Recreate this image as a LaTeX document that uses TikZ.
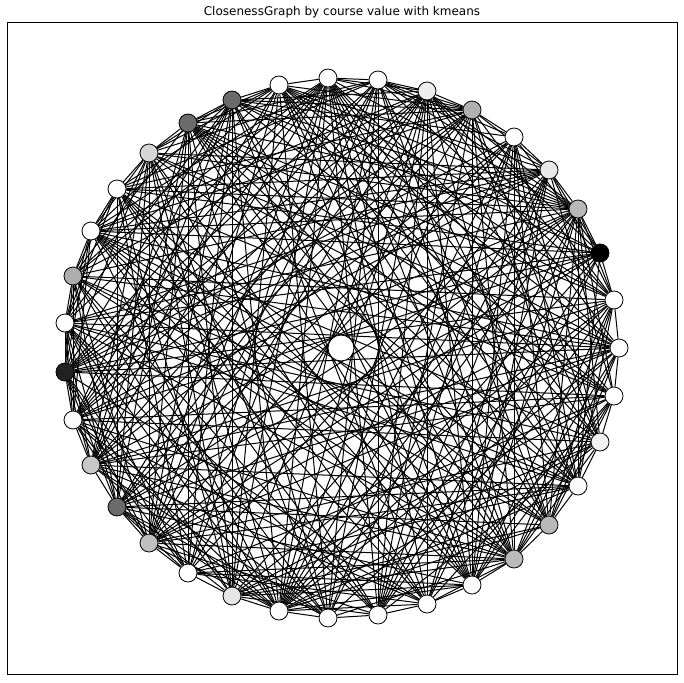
\documentclass[tikz,border=0pt]{standalone}
\usepackage{fontspec}
\setmainfont{DejaVu Sans}
\pgfdeclarelayer{bg}
\pgfsetlayers{bg,main}
\begin{document}
\begin{tikzpicture}[x=1pt,y=-1pt,
  vtx/.style={circle,draw=black,line width=0.8pt,minimum size=18pt,inner sep=0pt},
  hub/.style={vtx,minimum size=26pt},
  link/.style={draw=black,line width=1pt}]
\useasboundingbox (0,0) rectangle (684,682);
\draw[line width=0.9pt] (7,22) rectangle (677,674);
\node[font=\fontsize{12}{14}\selectfont] (title) at (342,12) {ClosenessGraph by course value with kmeans};
\foreach \k/\x/\y/\g in {1/328/78/0, 2/378/80/0, 3/427/91/7, 4/472/110/31, 5/514/137/0,
  6/549/170/9, 7/578/209/28, 8/600/253/100, 9/614/300/0, 10/619/348/0, 11/614/396/0,
  12/600/442/5, 13/578/486/2, 14/549/525/28, 15/514/559/27, 16/472/585/0, 17/427/604/0,
  18/378/615/0, 19/328/618/0, 20/279/611/0, 21/232/596/10, 22/188/573/0, 23/149/543/25,
  24/117/507/58, 25/91/465/22, 26/73/420/2, 27/65/372/87, 28/65/323/0, 29/73/276/32,
  30/91/231/0, 31/117/189/0, 32/149/153/16, 33/188/123/58, 34/232/100/58, 35/279/85/0}
  {\node[vtx,fill=black!\g] (n\k) at (\x,\y) {};}
\node[hub,fill=white] (c) at (341,348) {};
\begin{pgfonlayer}{bg}
\pgfmathsetseed{1234}
\foreach \i in {1,...,34}{
  \pgfmathtruncatemacro\s{\i+1}
  \foreach \j in {\s,...,35}{
    \pgfmathsetmacro\r{rnd}
    \pgfmathtruncatemacro\d{\j-\i}
    \ifnum\d=1 \def\r{0}\fi
    \ifdim\r pt<0.6pt \draw[link] (n\i) -- (n\j);\fi
  }}
\draw[link] (n35) -- (n1);
\draw[link] (n32) -- (n23);
\draw[link] (n31) -- (n24);
\draw[link] (n5) -- (n15);
\draw[link] (n3) -- (n17);
\end{pgfonlayer}
\end{tikzpicture}
\end{document}
